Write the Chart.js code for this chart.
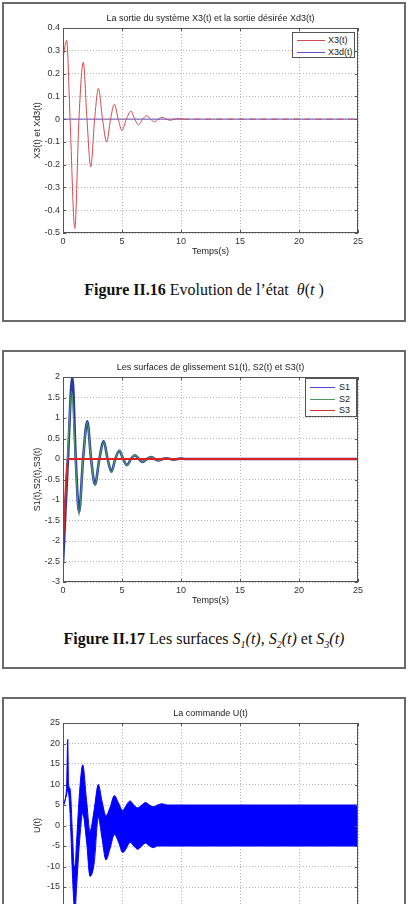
<!DOCTYPE html>
<html lang="fr">
<head>
<meta charset="utf-8">
<title>Figures II.16 - II.17</title>
<script src="https://cdn.jsdelivr.net/npm/chart.js@4.4.1/dist/chart.umd.min.js"></script>
<style>
  html, body { margin: 0; padding: 0; background: #fff; overflow: hidden; }
  body { position: relative; width: 409px; height: 904px; font-family: "Liberation Sans", Arial, sans-serif; }
  .cadre { position: absolute; left: 2px; width: 404px; box-sizing: border-box; border: 2px solid #6a6a6a; }
  canvas { position: absolute; left: 4px; }
  .legende { position: absolute; box-sizing: border-box; border: 1px solid #555; background: #fff; font-size: 9px; color: #222; }
  .legende div { position: absolute; left: 0; height: 11px; line-height: 11px; white-space: nowrap; }
  .legende span.trait { position: absolute; top: 5px; height: 0; border-top: 1px solid; }
  .legende span.nom { position: absolute; top: 0; }
  .legende-cap { position: absolute; left: 4px; width: 400px; text-align: center; font-family: "Liberation Serif", "Times New Roman", serif; font-size: 16px; line-height: 18px; color: #111; }
</style>
</head>
<body>
<div class="cadre" style="top:2px;height:320px"></div>
<div class="cadre" style="top:350px;height:319px"></div>
<div class="cadre" style="top:697px;height:330px"></div>

<canvas id="fig16" width="400" height="255" style="top:4px"></canvas>
<canvas id="fig17" width="400" height="253" style="top:355px"></canvas>
<canvas id="fig18" width="400" height="252" style="top:702px"></canvas>

<div class="legende" style="left:292px;top:32px;width:63px;height:26px">
  <div style="top:2px"><span class="trait" style="left:4px;width:28px;border-color:#d24a50"></span><span class="nom" style="left:35px">X3(t)</span></div>
  <div style="top:14px"><span class="trait" style="left:4px;width:28px;border-color:#5656c8"></span><span class="nom" style="left:35px">X3d(t)</span></div>
</div>
<div class="legende" style="left:305px;top:378px;width:52px;height:39px">
  <div style="top:3px"><span class="trait" style="left:4px;width:25px;border-color:#4a4ad0"></span><span class="nom" style="left:33px">S1</span></div>
  <div style="top:15px"><span class="trait" style="left:4px;width:25px;border-color:#4a9a5a"></span><span class="nom" style="left:33px">S2</span></div>
  <div style="top:26px"><span class="trait" style="left:4px;width:25px;border-color:#d03030"></span><span class="nom" style="left:33px">S3</span></div>
</div>

<div class="legende-cap" style="top:281px"><b>Figure II.16</b> Evolution de l’état &nbsp;<i>θ</i>(<i>t</i> )</div>
<div class="legende-cap" style="top:630px"><b>Figure II.17</b> Les surfaces <i>S<sub style="font-size:10px">1</sub>(t)</i>, <i>S<sub style="font-size:10px">2</sub>(t)</i> et <i>S<sub style="font-size:10px">3</sub>(t)</i></div>

<script>
// Axe des temps commun
const tMin = 0, tMax = 25, tPas = 5;

// Figure II.16 : X3(t) et Xd3(t)
const x3Temps = [0, 0.31, 0.6, 1.0, 1.35, 1.72, 2.03, 2.35, 2.68, 3.0, 3.35, 3.7, 4.03, 4.35, 4.68, 5.0, 5.37, 5.75, 6.08, 6.4, 6.75, 7.1, 7.42, 7.75, 8.08, 8.4, 8.75, 9.1, 9.45, 9.8, 10.2, 25];
const x3Val   = [0.27, 0.345, 0, -0.48, 0, 0.25, 0, -0.21, 0, 0.135, 0, -0.10, 0, 0.065, 0, -0.05, 0, 0.035, 0, -0.025, 0, 0.015, 0, -0.012, 0, 0.008, 0, -0.005, 0, 0.003, 0, 0];
const x3dTemps = [0, 25];
const x3dVal   = [0, 0];

// Figure II.17 : surfaces de glissement
const s1Temps = [0, 0.42, 0.79, 1.08, 1.36, 1.7, 2.06, 2.38, 2.71, 3.08, 3.45, 3.78, 4.1, 4.43, 4.77, 5.1, 5.42, 5.76, 6.1, 6.43, 6.75, 7.1, 7.46, 7.78, 8.1, 8.45, 8.8, 9.1, 9.4, 9.7, 10.0, 10.4, 25];
const s1Val   = [-2.55, 0, 2.0, 0, -1.3, 0, 0.92, 0, -0.62, 0, 0.43, 0, -0.31, 0, 0.2, 0, -0.15, 0, 0.09, 0, -0.07, 0, 0.045, 0, -0.035, 0, 0.02, 0, -0.015, 0, 0.01, 0, 0];
const s2Temps = [0, 0.38, 0.73, 1.05, 1.36, 1.7, 2.06, 2.38, 2.71, 3.08, 3.45, 3.78, 4.1, 4.43, 4.77, 5.1, 5.42, 5.76, 6.1, 6.43, 6.75, 7.1, 7.46, 7.78, 8.1, 8.45, 8.8, 9.1, 9.4, 9.7, 10.0, 10.4, 25];
const s2Val   = [-2.0, 0, 1.65, 0, -1.38, 0, 0.9, 0, -0.64, 0, 0.42, 0, -0.33, 0, 0.21, 0, -0.16, 0, 0.1, 0, -0.07, 0, 0.05, 0, -0.035, 0, 0.025, 0, -0.015, 0, 0.01, 0, 0];
const s3Temps = [0, 0.15, 0.4, 25];
const s3Val   = [-2.0, -1.2, 0, 0];

// Commande U(t) : enveloppes haute et basse de la bande de réticence
const uTemps = [0, 0.3, 0.4, 0.47, 0.6, 0.8, 0.95, 1.02, 1.15, 1.4, 1.67, 2.0, 2.29, 2.65, 2.99, 3.3, 3.64, 4.0, 4.35, 4.7, 5.06, 5.38, 5.68, 6.0, 6.33, 6.67, 7.0, 7.33, 7.65, 8.0, 8.4, 8.8, 25];
const uHaut  = [5.2, 9, 21, 10, 9, -2, -10, -10, -4, 8, 14.8, 6, -1.4, 4, 10, 6, 2.4, 4.5, 7.3, 5.5, 3.7, 5, 6, 5, 4.3, 5, 5.6, 5, 4.6, 5, 5.3, 5, 5];
const uBas   = [4.2, 7.5, 8.5, 8, 3, -12, -20, -21, -15, -4, 3, -4, -12.4, -9, 2, -3, -8.4, -5.5, -2.2, -4, -6.6, -5.5, -4.1, -5, -5.8, -5, -4.3, -5, -5.4, -5, -5, -5, -5];

const pts = (ts, vs) => ts.map((t, i) => ({ x: t, y: vs[i] }));
const fmt = v => String(Number(v.toFixed(2)));

Chart.defaults.font.family = '"Liberation Sans", Arial, sans-serif';
Chart.defaults.font.size = 9;
Chart.defaults.color = '#333';

// cadre de l'axe, petites graduations et titre centré sur la zone de tracé (façon Matlab)
const cadre = {
  id: 'cadre',
  afterDraw(chart, args, opts) {
    const { ctx, chartArea: a, scales } = chart;
    ctx.save();
    ctx.strokeStyle = '#555';
    ctx.lineWidth = 1;
    ctx.strokeRect(Math.round(a.left) + 0.5, Math.round(a.top) + 0.5, Math.round(a.width) - 1, Math.round(a.height) - 1);
    ctx.beginPath();
    scales.x.ticks.forEach(tk => {
      const px = Math.round(scales.x.getPixelForValue(tk.value)) + 0.5;
      ctx.moveTo(px, a.bottom); ctx.lineTo(px, a.bottom - 3);
      ctx.moveTo(px, a.top); ctx.lineTo(px, a.top + 3);
    });
    scales.y.ticks.forEach(tk => {
      const py = Math.round(scales.y.getPixelForValue(tk.value)) + 0.5;
      ctx.moveTo(a.left, py); ctx.lineTo(a.left + 3, py);
      ctx.moveTo(a.right, py); ctx.lineTo(a.right - 3, py);
    });
    ctx.stroke();
    ctx.fillStyle = '#222';
    ctx.font = '9px "Liberation Sans", Arial, sans-serif';
    ctx.textAlign = 'center';
    ctx.textBaseline = 'middle';
    ctx.fillText(opts.titre, (a.left + a.right) / 2, a.top - 9);
    ctx.restore();
  }
};

function options(titre, yTitre, yMin, yMax, yPas, haut) {
  return {
    responsive: false,
    animation: false,
    events: [],
    layout: { padding: { left: 0, right: 46, top: haut, bottom: 0 } },
    elements: { point: { radius: 0 }, line: { cubicInterpolationMode: 'monotone' } },
    plugins: {
      legend: { display: false },
      tooltip: { enabled: false },
      title: { display: false },
      cadre: { titre: titre }
    },
    scales: {
      x: {
        type: 'linear', min: tMin, max: tMax,
        ticks: { stepSize: tPas, padding: 3, maxRotation: 0, callback: fmt },
        grid: { color: '#b8b8b8', drawTicks: false },
        border: { display: false, dash: [1, 2] },
        title: { display: true, text: 'Temps(s)', color: '#222', font: { size: 9, lineHeight: 1.2 }, padding: { top: 0, bottom: 2 } },
        afterFit: s => { s.height = 26; }
      },
      y: {
        min: yMin, max: yMax,
        ticks: { stepSize: yPas, padding: 3, callback: fmt },
        grid: { color: '#b8b8b8', drawTicks: false },
        border: { display: false, dash: [1, 2] },
        title: { display: true, text: yTitre, color: '#222', font: { size: 9, lineHeight: 1.2 }, padding: { top: 28, bottom: 0 } },
        afterFit: s => { s.width = 59; }
      }
    }
  };
}

new Chart(document.getElementById('fig16'), {
  type: 'line',
  data: {
    datasets: [
      {
        label: 'X3(t)', data: pts(x3Temps, x3Val), borderColor: '#d24a50', borderWidth: 1,
        segment: { borderDash: c => (c.p0.parsed.x >= 10.2 ? [6, 5] : undefined) }
      },
      { label: 'X3d(t)', data: pts(x3dTemps, x3dVal), borderColor: '#5656c8', borderWidth: 1 }
    ]
  },
  options: options('La sortie du système X3(t) et la sortie désirée Xd3(t)', 'X3(t) et Xd3(t)', -0.5, 0.4, 0.1, 24),
  plugins: [cadre]
});

new Chart(document.getElementById('fig17'), {
  type: 'line',
  data: {
    datasets: [
      { label: 'S3', data: pts(s3Temps, s3Val), borderColor: '#e02020', borderWidth: 2 },
      { label: 'S2', data: pts(s2Temps, s2Val), borderColor: '#4f9a70', borderWidth: 1.2 },
      { label: 'S1', data: pts(s1Temps, s1Val), borderColor: '#2a3a9a', borderWidth: 2.6 }
    ]
  },
  options: options('Les surfaces de glissement S1(t), S2(t) et S3(t)', 'S1(t),S2(t),S3(t)', -3, 2, 0.5, 22),
  plugins: [cadre]
});

new Chart(document.getElementById('fig18'), {
  type: 'line',
  data: {
    datasets: [
      { label: 'U(t)', data: pts(uTemps, uHaut), borderColor: '#0000ff', borderWidth: 1, fill: false },
      { label: 'U(t) bas', data: pts(uTemps, uBas), borderColor: '#0000ff', borderWidth: 1, backgroundColor: '#0000ff', fill: '-1' }
    ]
  },
  options: options('La commande U(t)', 'U(t)', -25, 25, 5, 21),
  plugins: [cadre]
});
</script>
</body>
</html>
